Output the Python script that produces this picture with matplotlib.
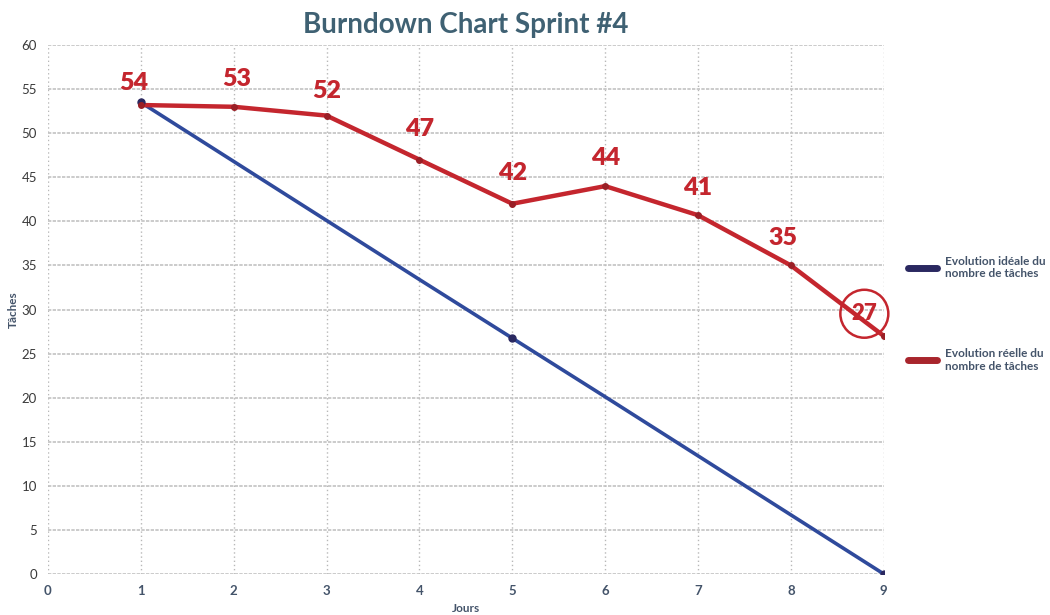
import matplotlib.pyplot as plt
from matplotlib.lines import Line2D

plt.rcParams['font.family'] = ['Lato', 'DejaVu Sans']

# data
jours = [1, 2, 3, 4, 5, 6, 7, 8, 9]
ideal = [53.5, 46.8, 40.1, 33.4, 26.75, 20.1, 13.4, 6.7, 0]
reel = [53.2, 53, 52, 47, 42, 44, 40.7, 35, 27]
reel_labels = ["54", "53", "52", "47", "42", "44", "41", "35", "27"]
legend_labels = ["Evolution idéale du\nnombre de tâches", "Evolution réelle du\nnombre de tâches"]

blue = "#2f4a9c"
red = "#c4262e"
text_col = "#44546a"

fig = plt.figure(figsize=(10.5, 6.15), dpi=100)
ax = fig.add_axes([0.0457, 0.0667, 0.796, 0.86])

ax.plot(jours, ideal, color=blue, lw=2.6, solid_capstyle="round")
ax.plot(jours, reel, color=red, lw=3.2, solid_capstyle="round")
ax.plot([jours[0], jours[4], jours[-1]], [ideal[0], ideal[4], ideal[-1]], "o", color="#2a2860", ms=5)
ax.plot(jours, reel, "o", color="#9a1f26", ms=4)

# handwritten numbers
offsets = [(-5, 8), (2, 12), (0, 10), (0, 14), (0, 14), (0, 12), (0, 12), (-6, 12), (-14, 16)]
for x, y, lab, off in zip(jours, reel, reel_labels, offsets):
    t = ax.annotate(lab, (x, y), xytext=off, textcoords="offset points", ha="center", va="bottom",
                    fontsize=18, fontweight="heavy", color=red)
    if lab == "27":
        t.set_va("center")
        t.set_fontsize(16)
        t.set_bbox(dict(boxstyle="circle,pad=0.5", fc="none", ec=red, lw=1.8))

ax.set_xlim(0, 9)
ax.set_ylim(0, 60)
ax.set_xticks(range(0, 10))
ax.set_yticks(range(0, 61, 5))
ax.yaxis.grid(True, color="#c2c2c2", ls=(0, (2, 0.8)), lw=1.2)
ax.xaxis.grid(True, color="#b8b8b8", ls=(0, (1, 2)), lw=1.0)
for s in ax.spines.values():
    s.set_visible(False)
ax.tick_params(length=0, labelsize=9.5, colors="#3a3a3a", pad=8)
for lab in ax.get_xticklabels():
    lab.set_color(text_col)
    lab.set_fontweight("bold")

ax.set_title("Burndown Chart Sprint #4", fontsize=20, fontweight="bold", color="#3f6173", pad=9)
ax.set_xlabel("Jours", fontsize=8.5, fontweight="bold", color=text_col, labelpad=0)
ax.xaxis.set_label_coords(0.5, -0.055)
ax.set_ylabel("Tâches", fontsize=8.5, fontweight="bold", color=text_col, labelpad=2)

handles = [Line2D([], [], color="#2a2860", lw=5, solid_capstyle="round"),
           Line2D([], [], color="#a8252c", lw=5, solid_capstyle="round")]
fig.legend(handles, legend_labels, loc="center left", bbox_to_anchor=(0.855, 0.49),
           frameon=False, labelspacing=5.8, handlelength=2.4, handletextpad=0.7,
           labelcolor=text_col, prop={"family": "Lato", "weight": "bold", "size": 8.5})

fig.savefig("out.png", dpi=100)
